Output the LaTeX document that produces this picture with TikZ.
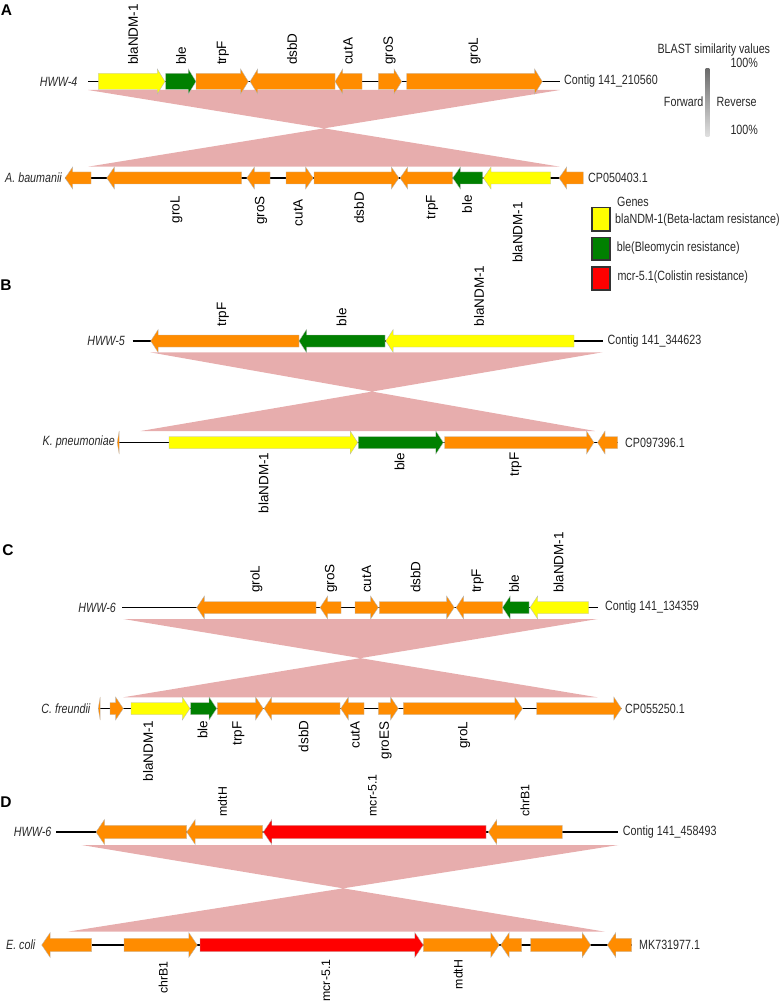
\documentclass[tikz,border=0pt]{standalone}
\usepackage{fontspec}
\setmainfont{Liberation Sans}
\newfontfamily\sidefont[FakeStretch=0.8]{Liberation Sans}
\definecolor{gorange}{RGB}{255,140,0}
\definecolor{ggreen}{RGB}{0,128,0}
\definecolor{gyellow}{RGB}{255,255,0}
\definecolor{gred}{RGB}{255,0,0}
\definecolor{blastpink}{RGB}{231,173,173}
\definecolor{txtgray}{RGB}{40,40,40}
\newcommand{\rowset}[4]{\def\gy{#1}\def\gbh{#2}\def\ghh{#3}\def\ghl{#4}}
\newcommand{\gR}[3]{\filldraw[genestyle,fill=#1] (#2,\gy-\gbh) -- (#3-\ghl,\gy-\gbh) -- (#3-\ghl,\gy-\ghh) -- (#3,\gy) -- (#3-\ghl,\gy+\ghh) -- (#3-\ghl,\gy+\gbh) -- (#2,\gy+\gbh) -- cycle;}
\newcommand{\gL}[3]{\filldraw[genestyle,fill=#1] (#3,\gy-\gbh) -- (#2+\ghl,\gy-\gbh) -- (#2+\ghl,\gy-\ghh) -- (#2,\gy) -- (#2+\ghl,\gy+\ghh) -- (#2+\ghl,\gy+\gbh) -- (#3,\gy+\gbh) -- cycle;}
\begin{document}
\begin{tikzpicture}[x=1pt,y=-1pt,
  genestyle/.style={draw=black!28, line width=0.35pt},
  backbone/.style={line width=1.9pt, black},
  lbl/.style={font=\fontsize{13.5}{15}\selectfont, rotate=90, inner sep=0pt},
  lblD/.style={font=\fontsize{12.3}{14}\selectfont, rotate=90, inner sep=0pt},
  toplbl/.style={lbl, anchor=west},
  botlbl/.style={lbl, anchor=east},
  toplblD/.style={lblD, anchor=west},
  botlblD/.style={lblD, anchor=east},
  side/.style={font=\sidefont\fontsize{13.4}{15}\selectfont, inner sep=0pt, text=txtgray},
  species/.style={side, font=\sidefont\itshape\fontsize{13.4}{15}\selectfont, anchor=east},
  contig/.style={side, anchor=west},
  panel/.style={font=\bfseries\fontsize{15.5}{17}\selectfont, inner sep=0pt},
  legbox/.style={draw=black!80, line width=1.6pt}]
\useasboundingbox (0,0) rectangle (783,1003);

% ---------- BLAST similarity regions ----------
\fill[blastpink] (88,90) -- (560,90) -- (88,166.7) -- (560,166.7) -- cycle;
\fill[blastpink] (150,352.3) -- (602.5,352.3) -- (140.7,431) -- (595,431) -- cycle;
\fill[blastpink] (123.3,619) -- (597.5,619) -- (123.3,697.3) -- (597.5,697.3) -- cycle;
\fill[blastpink] (81.7,845) -- (618.3,845) -- (67.7,931.7) -- (605,931.7) -- cycle;

% ---------- panel letters ----------
\node[panel] (pA) at (6.5,10) {A};
\node[panel] (pB) at (6,285) {B};
\node[panel] (pC) at (8,550) {C};
\node[panel] (pD) at (6,802.5) {D};

% ================= Panel A =================
% top row
\draw[backbone] (88,81.5) -- (560,81.5);
\rowset{81.5}{8}{12.5}{7.7}
\gR{gyellow}{98.3}{165}
\gR{ggreen}{165.7}{196}
\gR{gorange}{196}{248.3}
\gL{gorange}{250}{335}
\gL{gorange}{335}{362}
\gR{gorange}{378.3}{401.7}
\gR{gorange}{406.7}{542.3}
\node[species] (sA1) at (77.5,81.5) {HWW-4};
\node[contig] (cA1) at (564,81.5) {Contig 141\_210560};
\node[toplbl] at (133,65) {blaNDM-1};
\node[toplbl] at (181,65) {ble};
\node[toplbl] at (223,65) {trpF};
\node[toplbl] at (292,65) {dsbD};
\node[toplbl] at (348,65) {cutA};
\node[toplbl] at (389.5,65) {groS};
\node[toplbl] at (474.5,65) {groL};
% bottom row
\draw[backbone] (65,178) -- (583.3,178);
\rowset{178}{6}{11}{7.7}
\gL{gorange}{65}{91}
\gL{gorange}{106.7}{241.7}
\gL{gorange}{246.7}{270}
\gR{gorange}{286}{313.3}
\gR{gorange}{314}{399}
\gL{gorange}{400}{452.7}
\gL{ggreen}{452.7}{482.7}
\gL{gyellow}{483.3}{550.7}
\gL{gorange}{559}{583.3}
\node[species] (sA2) at (62,178) {A. baumanii};
\node[contig] (cA2) at (588,178) {CP050403.1};
\node[botlbl] at (176.5,196) {groL};
\node[botlbl] at (261,196) {groS};
\node[botlbl] at (298,199) {cutA};
\node[botlbl] at (359,192) {dsbD};
\node[botlbl] at (432,195) {trpF};
\node[botlbl] at (467,195) {ble};
\node[botlbl] at (517.5,202) {blaNDM-1};

% ---------- legend ----------
\node[side] (gen) at (633,202) {Genes};
\draw[legbox, fill=gyellow] (591.7,207.3) rectangle (610,230.7);
\draw[legbox, fill=ggreen] (591.7,237.3) rectangle (610,260);
\draw[legbox, fill=gred] (591.7,266.7) rectangle (610,290);
\node[side, anchor=west] (l1) at (615,220) {blaNDM-1(Beta-lactam resistance)};
\node[side, anchor=west] (l2) at (616.7,248.3) {ble(Bleomycin resistance)};
\node[side, anchor=west] (l3) at (617.3,276.7) {mcr-5.1(Colistin resistance)};

% ---------- BLAST scale ----------
\node[side] (bt) at (713.8,50) {BLAST similarity values};
\node[side] (b1) at (744.2,62.7) {100\%};
\shade[top color=black!58, bottom color=black!12] (705.7,68.3) rectangle (709.3,136.7);
\node[side, anchor=east] (fw) at (703.5,101.7) {Forward};
\node[side, anchor=west] (rv) at (716.5,101.7) {Reverse};
\node[side] (b2) at (744.2,130) {100\%};

% ================= Panel B =================
\draw[backbone] (132.5,341) -- (602.5,341);
\rowset{341}{6}{11.5}{7.5}
\gL{gorange}{150.7}{299}
\gL{ggreen}{299}{385}
\gL{gyellow}{385.7}{574}
\node[species] (sB1) at (125,341) {HWW-5};
\node[contig] (cB1) at (607.5,341) {Contig 141\_344623};
\node[toplbl] at (223,326.5) {trpF};
\node[toplbl] at (341.5,326.5) {ble};
\node[toplbl] at (479,326.5) {blaNDM-1};
% bottom
\draw[backbone] (119,442.5) -- (617.5,442.5);
\rowset{442.5}{6}{11.5}{7.5}
\filldraw[genestyle,fill=gorange] (117.2,442.5) -- (119.2,431) -- (119.2,454) -- cycle;
\gR{gyellow}{169}{357.7}
\gR{ggreen}{358.3}{443.3}
\gR{gorange}{444.5}{594}
\gL{gorange}{597.5}{617.5}
\node[species] (sB2) at (115,442.5) {K. pneumoniae};
\node[contig] (cB2) at (625,442.5) {CP097396.1};
\node[botlbl] at (263.5,452.5) {blaNDM-1};
\node[botlbl] at (399.5,452.5) {ble};
\node[botlbl] at (515.5,452.5) {trpF};

% ================= Panel C =================
\draw[backbone] (122.3,607.5) -- (597.5,607.5);
\rowset{607.5}{6}{11.5}{7.7}
\gL{gorange}{196.7}{316}
\gL{gorange}{320}{341}
\gR{gorange}{355}{378.3}
\gR{gorange}{379.3}{454.3}
\gL{gorange}{456}{502.5}
\gL{ggreen}{502.5}{529}
\gL{gyellow}{530}{588.5}
\node[species] (sC1) at (116,607.5) {HWW-6};
\node[contig] (cC1) at (605,607.5) {Contig 141\_134359};
\node[toplbl] at (256.5,593) {groL};
\node[toplbl] at (331,593) {groS};
\node[toplbl] at (366.5,593) {cutA};
\node[toplbl] at (415.5,593) {dsbD};
\node[toplbl] at (477.5,593) {trpF};
\node[toplbl] at (514,593) {ble};
\node[toplbl] at (558.5,593) {blaNDM-1};
% bottom
\draw[backbone] (100,708.5) -- (621.5,708.5);
\rowset{708.5}{6}{11.5}{7.7}
\filldraw[genestyle,fill=gorange] (98.2,708.5) -- (100.2,697) -- (100.2,720) -- cycle;
\gR{gorange}{110}{123.3}
\gR{gyellow}{131}{190}
\gR{ggreen}{190.5}{216.7}
\gR{gorange}{217.3}{263.3}
\gL{gorange}{264}{340}
\gL{gorange}{340.7}{364}
\gR{gorange}{378.3}{398.3}
\gR{gorange}{403.3}{522.5}
\gR{gorange}{536.5}{621.5}
\node[species] (sC2) at (90.5,708.5) {C. freundii};
\node[contig] (cC2) at (625,708.5) {CP055250.1};
\node[botlbl] at (148,720.5) {blaNDM-1};
\node[botlbl] at (202.5,720.5) {ble};
\node[botlbl] at (238.5,721.5) {trpF};
\node[botlbl] at (303.5,720.5) {dsbD};
\node[botlbl] at (355,721.5) {cutA};
\node[botlbl] at (385.5,721.5) {groES};
\node[botlbl] at (464,721.5) {groL};

% ================= Panel D =================
\draw[backbone] (56,832) -- (617.7,832);
\rowset{832}{6.7}{12.5}{8.5}
\gL{gorange}{96}{186.7}
\gL{gorange}{186.7}{262.7}
\gL{gred}{263.3}{486}
\gL{gorange}{488.3}{562.3}
\node[species] (sD1) at (51.5,832) {HWW-6};
\node[contig] (cD1) at (622.7,832) {Contig 141\_458493};
\node[toplblD] at (222.5,816.5) {mdtH};
\node[toplblD] at (372.5,816.5) {mcr-5.1};
\node[toplblD] at (525,816.5) {chrB1};
% bottom
\draw[backbone] (91.7,945) -- (631.7,945);
\rowset{945}{6.7}{12.5}{8.5}
\gL{gorange}{41.7}{91.7}
\gR{gorange}{124}{197.3}
\gR{gred}{200}{423.3}
\gR{gorange}{423.3}{499.3}
\gL{gorange}{500.7}{521.7}
\gR{gorange}{530.7}{590.7}
\gL{gorange}{607.3}{631.7}
\node[species] (sD2) at (35.5,945) {E. coli};
\node[contig] (cD2) at (639,945) {MK731977.1};
\node[botlblD] at (163.3,961) {chrB1};
\node[botlblD] at (326,959.5) {mcr-5.1};
\node[botlblD] at (458.3,959.5) {mdtH};
\end{tikzpicture}
\end{document}
